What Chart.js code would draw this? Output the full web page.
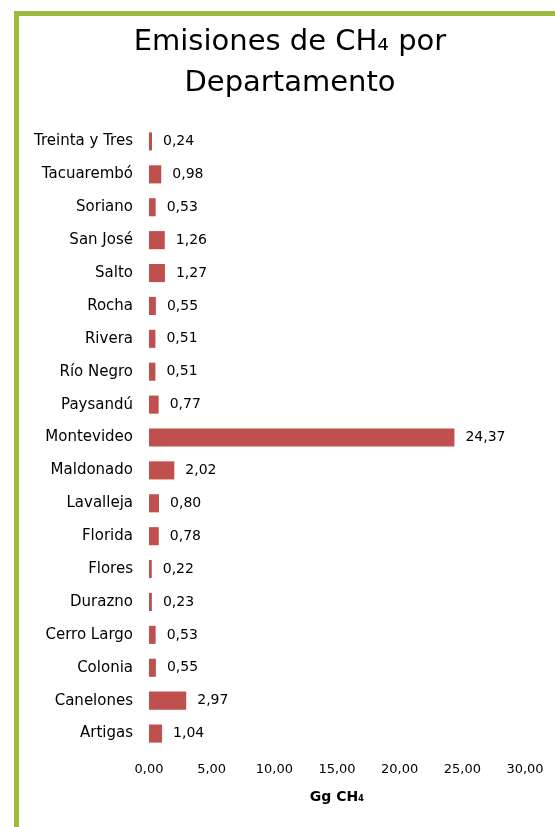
<!DOCTYPE html>
<html lang="es">
<head>
<meta charset="utf-8">
<title>Emisiones de CH4 por Departamento</title>
<script src="https://cdn.jsdelivr.net/npm/chart.js@4.4.1/dist/chart.umd.min.js"></script>
<style>
    html, body { margin: 0; padding: 0; background: #fff; overflow: hidden; }
    .frame {
        position: absolute; left: 14px; top: 11px; width: 700px; height: 1000px;
        border-left: 5px solid #9cba3c; border-top: 5px solid #9cba3c;
    }
    #chart { position: absolute; left: 0; top: 0; }
</style>
</head>
<body>
<div class="frame"></div>
<canvas id="chart" width="555" height="827"></canvas>
<script>
// Departamentos, de arriba hacia abajo
const departamentos = [
    'Treinta y Tres', 'Tacuarembó', 'Soriano', 'San José', 'Salto', 'Rocha',
    'Rivera', 'Río Negro', 'Paysandú', 'Montevideo', 'Maldonado', 'Lavalleja',
    'Florida', 'Flores', 'Durazno', 'Cerro Largo', 'Colonia', 'Canelones', 'Artigas'
];
// Emisiones de CH4 (Gg)
const emisiones = [
    0.24, 0.98, 0.53, 1.26, 1.27, 0.55,
    0.51, 0.51, 0.77, 24.37, 2.02, 0.80,
    0.78, 0.22, 0.23, 0.53, 0.55, 2.97, 1.04
];
const ejeMin = 0;
const ejeMax = 30;
const ejePaso = 5;

const fuente = 'DejaVu Sans';

function formatNumber(v) {
    return v.toFixed(2).replace('.', ',');
}

// Etiqueta con el valor al final de cada barra
const valueLabels = {
    id: 'valueLabels',
    afterDatasetsDraw(chart) {
        const { ctx } = chart;
        const meta = chart.getDatasetMeta(0);
        ctx.save();
        ctx.font = `14px "${fuente}"`;
        ctx.fillStyle = '#000';
        ctx.textAlign = 'left';
        ctx.textBaseline = 'middle';
        meta.data.forEach((bar, i) => {
            ctx.fillText(formatNumber(emisiones[i]), bar.x + 11, bar.y);
        });
        ctx.restore();
    }
};

function renderChart() {
    const ctx = document.getElementById('chart').getContext('2d');
    window.chartInstance = new Chart(ctx, {
        type: 'bar',
        data: {
            labels: departamentos,
            datasets: [{
                data: emisiones,
                backgroundColor: '#c0504d',
                borderWidth: 0,
                categoryPercentage: 1,
                barPercentage: 0.55
            }]
        },
        options: {
            indexAxis: 'y',
            responsive: false,
            animation: false,
            // el título se centra sobre el marco completo (que sigue a la derecha)
            layout: { padding: { left: 14, right: -11, top: 0, bottom: 17 } },
            plugins: {
                legend: { display: false },
                tooltip: { enabled: false },
                title: {
                    display: true,
                    text: ['Emisiones de CH₄ por', 'Departamento'],
                    color: '#000',
                    font: { family: fuente, size: 29, weight: 'normal', lineHeight: 1.414 },
                    padding: { top: 22, bottom: 21 }
                }
            },
            scales: {
                x: {
                    min: ejeMin,
                    max: ejeMax,
                    grid: { display: false, drawTicks: false },
                    border: { display: false },
                    ticks: {
                        stepSize: ejePaso,
                        padding: 12,
                        color: '#000',
                        font: { family: fuente, size: 13 },
                        callback: (value) => formatNumber(value)
                    },
                    title: {
                        display: true,
                        text: 'Gg CH₄',
                        color: '#000',
                        font: { family: fuente, size: 14, weight: 'bold' }
                    },
                    afterFit: (scale) => {
                        scale.height = 60;
                        scale.paddingRight = 30;
                    }
                },
                y: {
                    grid: { display: false, drawTicks: false },
                    border: { display: false },
                    ticks: {
                        padding: 16,
                        color: '#000',
                        font: { family: fuente, size: 15 }
                    },
                    afterFit: (scale) => { scale.width = 135; }
                }
            }
        },
        plugins: [valueLabels]
    });
}

renderChart();
</script>
</body>
</html>
